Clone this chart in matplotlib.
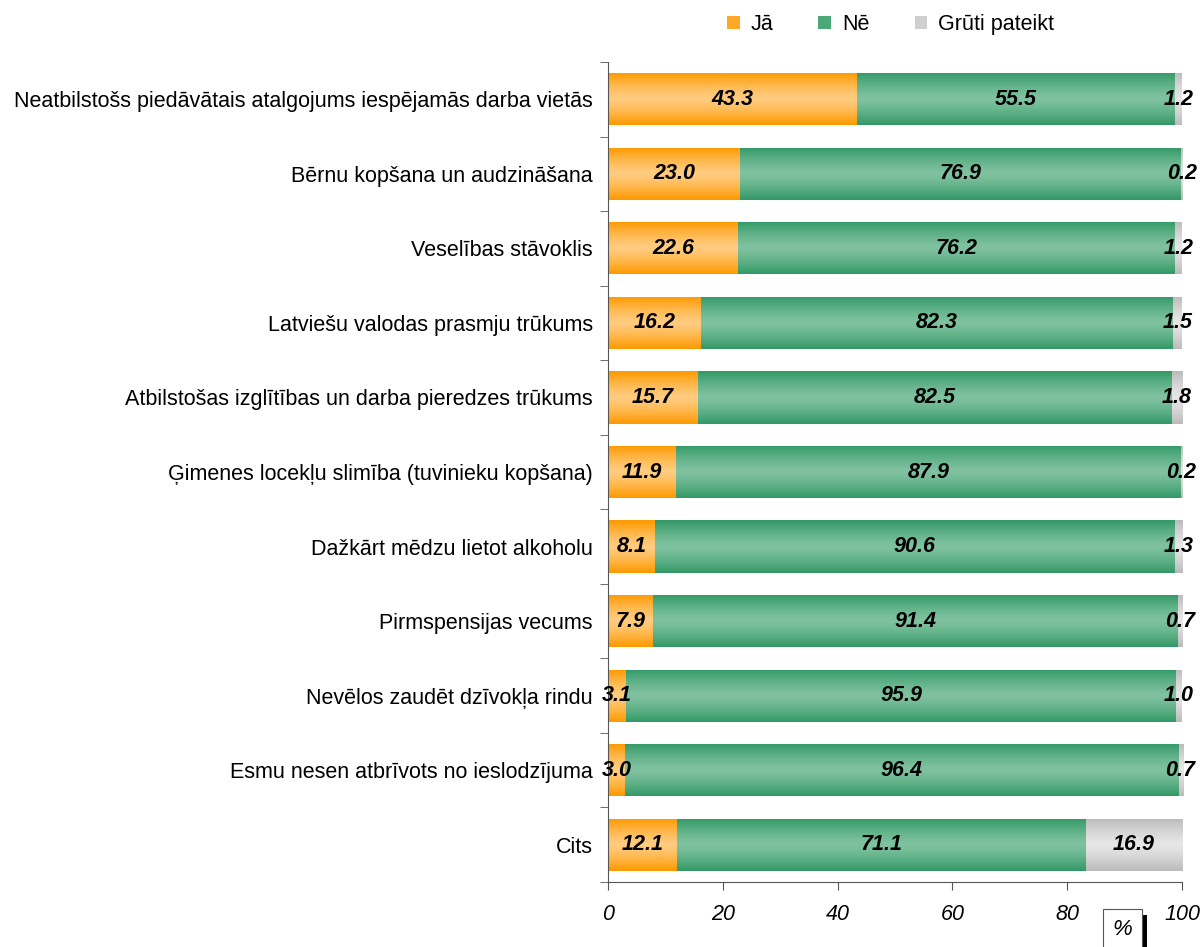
import numpy as np
import matplotlib
matplotlib.use("Agg")
import matplotlib.pyplot as plt
from matplotlib.colors import LinearSegmentedColormap
from matplotlib.patches import Patch, Rectangle

plt.rcParams['font.family'] = ['Liberation Sans', 'DejaVu Sans']

# Data
categories = [
    "Neatbilstošs piedāvātais atalgojums iespējamās darba vietās",
    "Bērnu kopšana un audzināšana",
    "Veselības stāvoklis",
    "Latviešu valodas prasmju trūkums",
    "Atbilstošas izglītības un darba pieredzes trūkums",
    "Ģimenes locekļu slimība (tuvinieku kopšana)",
    "Dažkārt mēdzu lietot alkoholu",
    "Pirmspensijas vecums",
    "Nevēlos zaudēt dzīvokļa rindu",
    "Esmu nesen atbrīvots no ieslodzījuma",
    "Cits",
]
ja = [43.3, 23.0, 22.6, 16.2, 15.7, 11.9, 8.1, 7.9, 3.1, 3.0, 12.1]
ne = [55.5, 76.9, 76.2, 82.3, 82.5, 87.9, 90.6, 91.4, 95.9, 96.4, 71.1]
gruti = [1.2, 0.2, 1.2, 1.5, 1.8, 0.2, 1.3, 0.7, 1.0, 0.7, 16.9]
series_names = ["Jā", "Nē", "Grūti pateikt"]

# (edge colour, centre colour)
palette = [("#FF9900", "#FFCC80"), ("#339966", "#80C2A0"), ("#BBBBBB", "#E6E6E6")]

fig = plt.figure(figsize=(12, 9.47), dpi=100)
ax = fig.add_axes([0.5067, 0.0686, 0.4783, 0.8659])

y = np.arange(len(categories))
bar_h = 0.7
t = np.linspace(0, 1, 64)
profile = 1 - np.abs(2 * t - 1) ** 1.3
grad = profile.reshape(-1, 1)

left = np.zeros(len(categories))
for vals, name, (edge, centre) in zip([ja, ne, gruti], series_names, palette):
    vals = np.array(vals)
    bars = ax.barh(y, vals, left=left, height=bar_h, color=edge, linewidth=0)
    cmap = LinearSegmentedColormap.from_list(name, [edge, centre])
    for b in bars:
        x0, y0 = b.get_x(), b.get_y()
        w, h = b.get_width(), b.get_height()
        if w <= 0:
            continue
        im = ax.imshow(grad, cmap=cmap, aspect='auto', vmin=0, vmax=1,
                       extent=(x0, x0 + w, y0 + h, y0), zorder=2,
                       interpolation='bilinear')
        im.set_clip_path(b)
    for yi, l, v in zip(y, left, vals):
        ax.text(l + v / 2, yi, f"{v:.1f}", ha='center', va='center',
                fontsize=15.5, fontweight='bold', fontstyle='italic',
                color='black', zorder=5)
    left = left + vals

ax.set_xlim(0, 100)
ax.set_ylim(len(categories) - 0.5, -0.5)
ax.set_xticks(np.arange(0, 101, 20))
ax.set_xticklabels([str(v) for v in range(0, 101, 20)], fontsize=15.5, fontstyle='italic')
ax.set_yticks(y)
ax.set_yticklabels(categories, fontsize=15.5)
ax.set_yticks(np.arange(-0.5, len(categories)), minor=True)
ax.tick_params(axis='y', which='major', length=0, pad=11)
ax.tick_params(axis='y', which='minor', length=6, color='#555555')
ax.tick_params(axis='x', length=6, pad=10, color='#555555')
for s in ['top', 'right']:
    ax.spines[s].set_visible(False)
for s in ['left', 'bottom']:
    ax.spines[s].set_color('#555555')

handles = [Patch(facecolor=c, edgecolor='none') for c in ["#FFA826", "#4DA878", "#CFCFCF"]]
fig.legend(handles, series_names, loc='center', bbox_to_anchor=(0.742, 0.974),
           ncol=3, frameon=False, fontsize=15.5, handlelength=0.6, handleheight=0.6,
           handletextpad=0.5, columnspacing=2.1)

# "%" box under the axis end
fig.patches.append(Rectangle((0.9505, 0.0), 0.005, 0.034, transform=fig.transFigure,
                             facecolor='black', edgecolor='none'))
fig.text(0.9355, 0.019, "%", ha='center', va='center', fontsize=16, fontstyle='italic',
         bbox=dict(boxstyle='square,pad=0.45', facecolor='white', edgecolor='#555555', linewidth=0.8))

plt.savefig("out.png", dpi=100)
